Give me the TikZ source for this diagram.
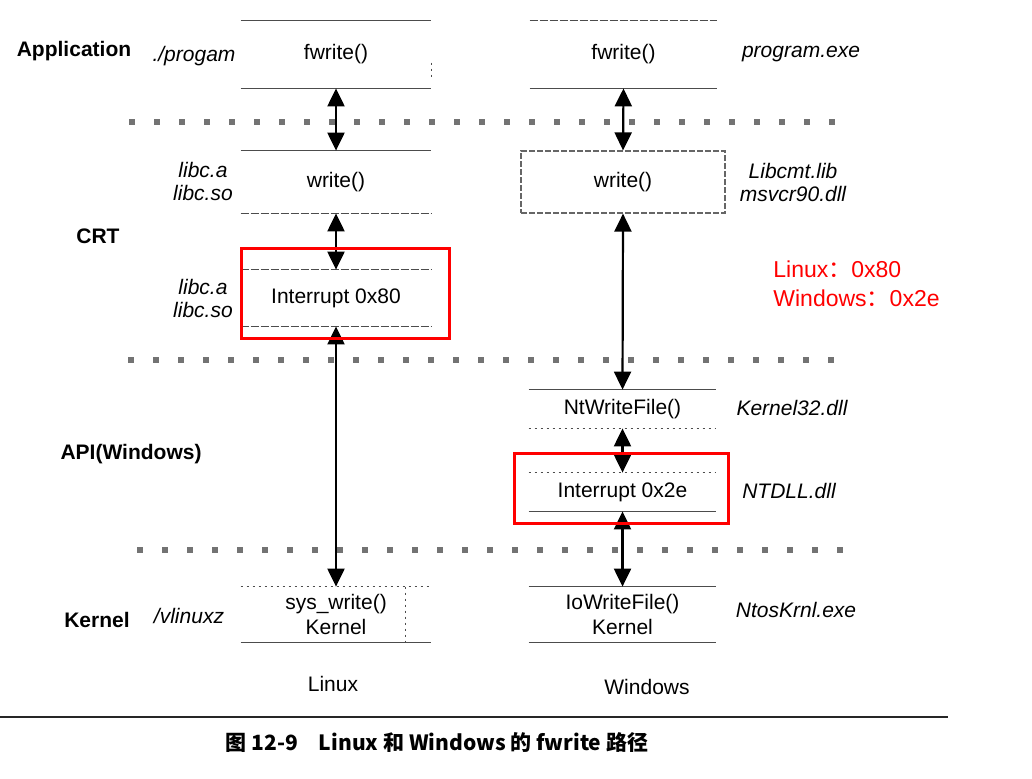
\documentclass[tikz,border=0pt]{standalone}
\usepackage{fontspec}
\setmainfont{Liberation Sans}
\newfontfamily\cjk{Noto Sans CJK SC}
\usetikzlibrary{arrows.meta}
\usetikzlibrary{positioning}

\tikzset{
  layer/.style={minimum width=95pt, minimum height=#1, inner sep=0pt, align=center},
  wlayer/.style={minimum width=93.5pt, minimum height=#1, inner sep=0pt, align=center},
  rowname/.style={font=\fontsize{10.5}{12.5}\selectfont\bfseries},
  libname/.style={font=\fontsize{10.5}{11.5}\selectfont\itshape, align=center},
  rule/.style={line width=0.6pt, black!70},
  dashrule/.style={rule, dash pattern=on 4pt off 1pt},
  dotrule/.style={rule, dash pattern=on 1pt off 2pt},
  sepline/.style={line width=3pt, black!55, dash pattern=on 3pt off 9.5pt},
  dualarrow/.style={line width=1.1pt, {Triangle[length=9pt,width=8.5pt]}-{Triangle[length=9pt,width=8.5pt]}},
  redbox/.style={line width=1.5pt, red},
  redtext/.style={font=\fontsize{11.5}{13}\selectfont, text=red, anchor=west, inner sep=0pt}
}

\begin{document}
\begin{tikzpicture}[x=0.5pt,y=-0.5pt,font=\fontsize{10.5}{12.5}\selectfont]
\useasboundingbox (0,0) rectangle (1032,778);

% layer separators
\draw[sepline] (129,122) -- (840,122);
\draw[sepline] (128,360) -- (840,360);
\draw[sepline] (137,550) -- (848,550);

% row names
\node[rowname] (app) at (74,51) {Application};
\node[rowname] (crt) at (98,236) {CRT};
\node[rowname] (api) at (131,454) {API(Windows)};
\node[rowname] (kern) at (97,620) {Kernel};

% Linux column
\node[layer=33.5pt] (lfw) at (336,54.5) {fwrite()};
\node[layer=31pt] (lwr) at (336,182) {write()};
\node[layer=28pt] (lint) at (336,298) {Interrupt 0x80};
\node[layer=27.5pt] (lsys) at (336,614.5) {sys\_write()\\Kernel};

\draw[rule] (lfw.north west) -- (lfw.north east);
\draw[rule] (lfw.south west) -- (lfw.south east);
\draw[dotrule] ([yshift=-4pt]lfw.east) -- ([yshift=5pt]lfw.south east);
\draw[rule] (lwr.north west) -- (lwr.north east);
\draw[dashrule] (lwr.south west) -- (lwr.south east);
\draw[dashrule] (lint.north west) -- (lint.north east);
\draw[dashrule] (lint.south west) -- (lint.south east);
\draw[dotrule] (lsys.north west) -- (lsys.north east);
\draw[rule] (lsys.south west) -- (lsys.south east);
\draw[dotrule] ([xshift=-13pt]lsys.north east) -- ([xshift=-13pt]lsys.south east);

\draw[dualarrow] (lfw.south) -- (lwr.north);
\draw[dualarrow] (lwr.south) -- (lint.north);
\draw[dualarrow] (lint.south) -- (lsys.north);

\node[libname] (lprog) at (194,56) {./progam};
\node[libname] (llibA) at (203,181) {libc.a\\libc.so};
\node[libname] (llibB) at (203,298) {libc.a\\libc.so};
\node[libname] (lvm) at (189,616) {/vlinuxz};
\node (lname) at (333,684) {Linux};

% Windows column
\node[wlayer=33.5pt] (wfw) at (623.5,54.5) {fwrite()};
\node[wlayer=31pt, minimum width=102pt, draw=black!60, line width=0.6pt, dash pattern=on 3pt off 1pt] (wwr) at (623,182) {write()};
\node[wlayer=19pt] (wnt) at (622.5,409) {NtWriteFile()};
\node[wlayer=19pt] (wint) at (622.5,492) {Interrupt 0x2e};
\node[wlayer=27.5pt] (wio) at (622.5,614.5) {IoWriteFile()\\Kernel};

\draw[dashrule] (wfw.north west) -- (wfw.north east);
\draw[rule] (wfw.south west) -- (wfw.south east);
\draw[rule] (wnt.north west) -- (wnt.north east);
\draw[dotrule] (wnt.south west) -- (wnt.south east);
\draw[dotrule] (wint.north west) -- (wint.north east);
\draw[rule] (wint.south west) -- (wint.south east);
\draw[rule] (wio.north west) -- (wio.north east);
\draw[rule] (wio.south west) -- (wio.south east);

\draw[dualarrow] (wfw.south) -- (wwr.north);
\draw[dualarrow] (wwr.south) -- (wnt.north);
\draw[dualarrow] (wnt.south) -- (wint.north);
\draw[dualarrow] (wint.south) -- (wio.north);

\node[libname] (wprog) at (801,54) {program.exe};
\node[libname] (wlib) at (793,182) {Libcmt.lib\\msvcr90.dll};
\node[libname] (wk32) at (792,408) {Kernel32.dll};
\node[libname] (wntdll) at (789,491) {NTDLL.dll};
\node[libname] (wos) at (796,610) {NtosKrnl.exe};
\node (wname) at (647,687) {Windows};

% red marks
\draw[redbox] (241,248) rectangle (449,338);
\draw[redbox] (514,453) rectangle (728,523);
\node[redtext] (rlin) at (773,269) {Linux{\cjk ：}0x80};
\node[redtext] (rwin) at (773,298) {Windows{\cjk ：}0x2e};

% caption
\draw[line width=1pt, black!85] (0,717) -- (948,717);
\node[font=\cjk\bfseries\fontsize{10.5}{12.5}\selectfont] (cap) at (437,743) {图 12-9\quad Linux 和 Windows 的 fwrite 路径};
\end{tikzpicture}
\end{document}
